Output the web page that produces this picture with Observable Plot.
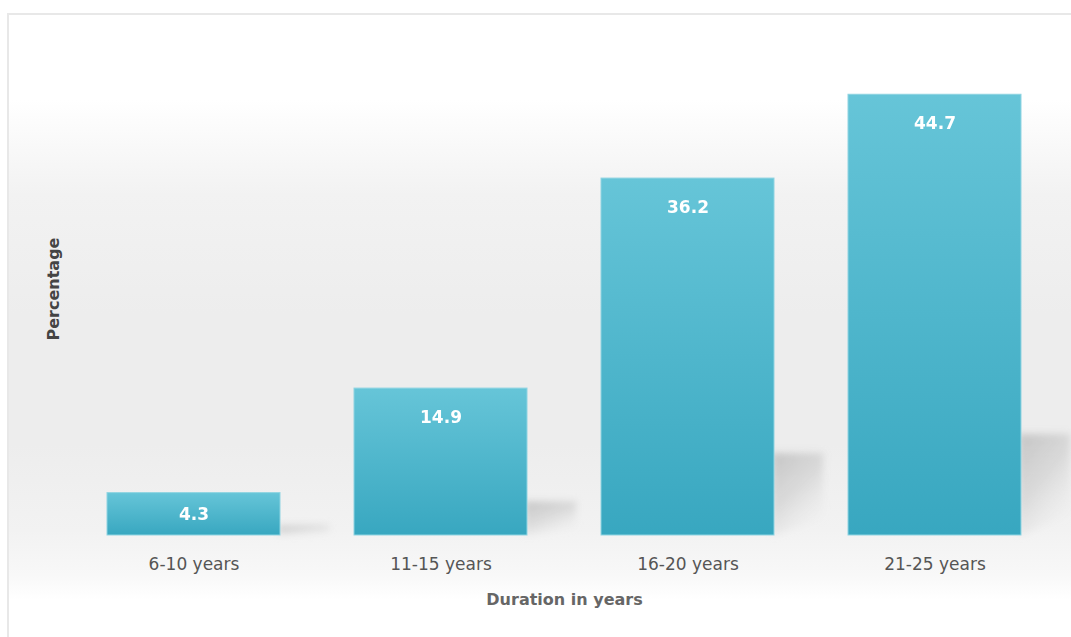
<!DOCTYPE html>
<html>
<head>
<meta charset="utf-8">
<script src="https://cdn.jsdelivr.net/npm/d3@7"></script>
<script src="https://cdn.jsdelivr.net/npm/@observablehq/plot@0.6"></script>
<style>
  html, body { margin: 0; padding: 0; background: #fff; }
  #wrap { position: relative; width: 1071px; height: 637px; overflow: hidden; }
  #bg {
    position: absolute; left: 7px; top: 13px; width: 1070px; height: 630px;
    border-left: 2px solid #e8e8e8; border-top: 2px solid #e8e8e8;
    background: linear-gradient(to bottom, #ffffff 0px, #ffffff 85px, #f2f2f2 180px, #ededed 300px, #ededed 430px, #f2f2f2 515px, #f8f8f8 560px, #ffffff 585px);
  }
  #chart { position: absolute; left: 0; top: 0; }
</style>
</head>
<body>
<div id="wrap"><div id="bg"></div><div id="chart"></div></div>
<script>
const categories = ["6-10 years", "11-15 years", "16-20 years", "21-25 years"];
const values = [4.3, 14.9, 36.2, 44.7];
const xTitle = "Duration in years";
const yTitle = "Percentage";

const data = categories.map((c, i) => ({cat: c, v: values[i]}));

const NS = "http://www.w3.org/2000/svg";
function defs() {
  const d = document.createElementNS(NS, "defs");
  d.innerHTML = `
    <linearGradient id="barGrad" x1="0" y1="0" x2="0" y2="1">
      <stop offset="0%" stop-color="#66c5d8"/>
      <stop offset="100%" stop-color="#38a7c0"/>
    </linearGradient>
    <linearGradient id="shadowGrad" x1="0" y1="0" x2="0.6" y2="1">
      <stop offset="0%" stop-color="#bfbfbf" stop-opacity="0.9"/>
      <stop offset="55%" stop-color="#cfcfcf" stop-opacity="0.65"/>
      <stop offset="100%" stop-color="#e6e6e6" stop-opacity="0.1"/>
    </linearGradient>
    <clipPath id="shadowClip" clipPathUnits="objectBoundingBox">
      <polygon points="0,0 1,0 1,0.8 0.05,1 0,1"/>
    </clipPath>
    <filter id="blur" x="-30%" y="-30%" width="160%" height="160%">
      <feGaussianBlur stdDeviation="3.5"/>
    </filter>`;
  return d;
}

const chart = Plot.plot({
  width: 1071,
  height: 637,
  marginLeft: 70,
  marginRight: 13,
  marginTop: 42,
  marginBottom: 102,
  style: {background: "transparent", fontFamily: "DejaVu Sans, sans-serif"},
  x: {domain: categories, padding: 0, label: null},
  y: {domain: [0, 50], axis: null},
  marks: [
    defs,
    Plot.barY(data, {
      x: "cat", y: d => d.v * 0.23,
      insetLeft: 208, insetRight: -12,
      fill: "url(#shadowGrad)"
    }),
    Plot.barY(data, {
      x: "cat", y: "v", insetLeft: 37, insetRight: 37,
      fill: "url(#barGrad)", stroke: "#8fd4e2", strokeWidth: 1
    }),
    Plot.text(data, {
      x: "cat", y: d => Math.max(d.v - 2.9, d.v / 2), text: d => d.v.toFixed(1),
      fill: "white", fontWeight: "bold", fontSize: 17
    }),
    Plot.axisX({
      tickSize: 0, tickPadding: 22, fontSize: 17, color: "#555", label: null
    }),
    Plot.text([xTitle], {
      frameAnchor: "bottom", dy: 69, fontSize: 16, fontWeight: "bold", fill: "#666"
    }),
    Plot.text([yTitle], {
      frameAnchor: "left", textAnchor: "middle", dx: -17, rotate: -90, fontSize: 16, fontWeight: "bold", fill: "#444"
    })
  ]
});
chart.querySelectorAll('[fill="url(#shadowGrad)"]').forEach(g => {
  g.setAttribute("filter", "url(#blur)");
  g.querySelectorAll("rect").forEach(r => r.setAttribute("clip-path", "url(#shadowClip)"));
});
document.getElementById("chart").appendChild(chart);
</script>
</body>
</html>
